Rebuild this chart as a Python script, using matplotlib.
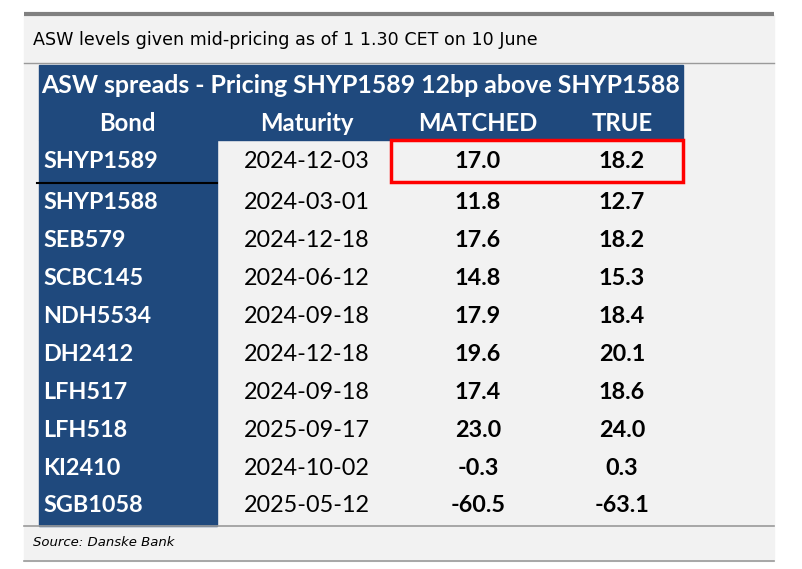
import matplotlib.pyplot as plt
from matplotlib.patches import Rectangle

# table content
title = "ASW levels given mid-pricing as of 1 1.30 CET on 10 June"
table_title = "ASW spreads - Pricing SHYP1589 12bp above SHYP1588"
columns = ["Bond", "Maturity", "MATCHED", "TRUE"]
bonds = ["SHYP1589", "SHYP1588", "SEB579", "SCBC145", "NDH5534",
         "DH2412", "LFH517", "LFH518", "KI2410", "SGB1058"]
maturities = ["2024-12-03", "2024-03-01", "2024-12-18", "2024-06-12", "2024-09-18",
              "2024-12-18", "2024-09-18", "2025-09-17", "2024-10-02", "2025-05-12"]
matched = [17.0, 11.8, 17.6, 14.8, 17.9, 19.6, 17.4, 23.0, -0.3, -60.5]
true_asw = [18.2, 12.7, 18.2, 15.3, 18.4, 20.1, 18.6, 24.0, 0.3, -63.1]
source = "Source: Danske Bank"

blue = "#1F497D"
panel = "#F2F2F2"
tfont = "Lato"

fig = plt.figure(figsize=(8.02, 5.69), dpi=100)
ax = fig.add_axes([0, 0, 1, 1])
ax.set_xlim(0, 802)
ax.set_ylim(569, 0)
ax.axis("off")

# panel and frame lines
ax.add_patch(Rectangle((24, 15), 750, 546, color=panel, zorder=0))
ax.plot([24, 774], [14, 14], color="#808080", lw=3, solid_capstyle="butt")
ax.plot([24, 774], [63, 63], color="#9a9a9a", lw=1)
ax.plot([24, 774], [526, 526], color="#9a9a9a", lw=1.2)
ax.plot([24, 774], [561, 561], color="#9a9a9a", lw=1.2)

ax.text(33, 40, title, fontsize=12.6, family="DejaVu Sans", va="center", ha="left")
ax.text(33, 543, source, fontsize=9.5, family="DejaVu Sans", style="italic",
        va="center", ha="left")

# table geometry
x0, x1, x2 = 39, 217, 683
col_x = [43, 307, 478, 622]
head_top, head_bot = 65, 140
row_h = 38
first_bot = 183

ax.add_patch(Rectangle((x0, head_top), x2 - x0, head_bot - head_top, color=blue, zorder=1))
ax.add_patch(Rectangle((x0, head_bot), x1 - x0, 526 - head_bot, color=blue, zorder=1))

ax.text((x0 + x2) / 2, 85, table_title, color="white", fontsize=17.9, weight="bold",
        family=tfont, ha="center", va="center", zorder=3)
for j, c in enumerate(columns):
    ax.text(col_x[j] if j else 127, 123, c, color="white", fontsize=17.2, weight="bold",
            family=tfont, ha="center", va="center", zorder=3)

for i, b in enumerate(bonds):
    yc = (head_bot + first_bot) / 2 if i == 0 else first_bot + row_h * (i - 1) + row_h / 2
    ax.text(col_x[0], yc, b, color="white", fontsize=16.8, weight="bold", family=tfont,
            ha="left", va="center", zorder=3)
    ax.text(col_x[1], yc, maturities[i], color="black", fontsize=16.8, family=tfont,
            ha="center", va="center", zorder=3)
    ax.text(col_x[2], yc, f"{matched[i]:.1f}", color="black", fontsize=16.8,
            weight="bold", family=tfont, ha="center", va="center", zorder=3)
    ax.text(col_x[3], yc, f"{true_asw[i]:.1f}", color="black", fontsize=16.8,
            weight="bold", family=tfont, ha="center", va="center", zorder=3)

# separator under first row and highlight box
ax.plot([37, x1], [first_bot, first_bot], color="black", lw=1.5, zorder=4)
ax.add_patch(Rectangle((391, 140), 292, 42, fill=False, edgecolor="#FF0000", lw=2.5, zorder=5))

fig.savefig("out.png", dpi=100)
